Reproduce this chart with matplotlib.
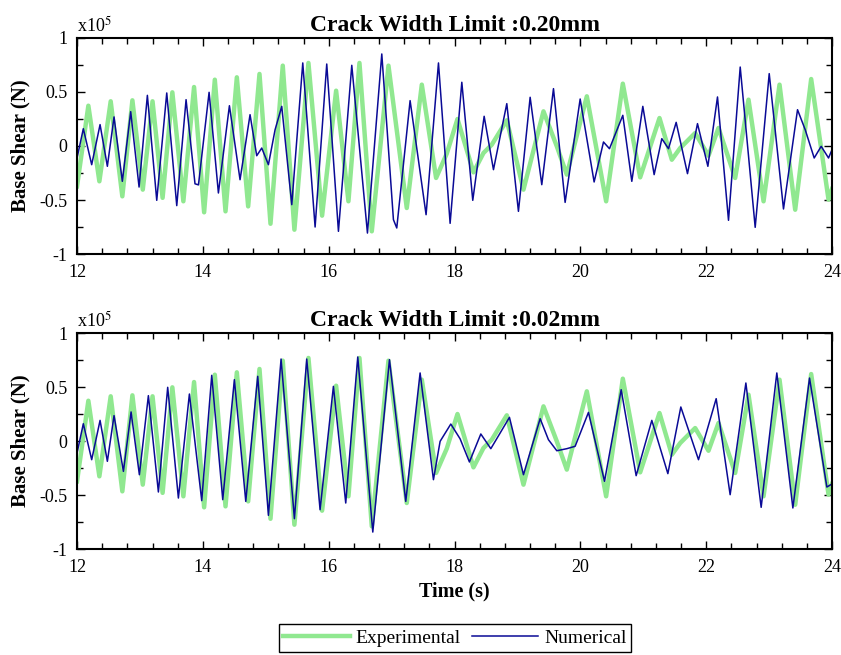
import matplotlib
matplotlib.use('Agg')
import matplotlib.pyplot as plt
from matplotlib.ticker import MultipleLocator, FormatStrFormatter

plt.rcParams['font.family'] = ['Liberation Serif', 'DejaVu Serif']
plt.rcParams['mathtext.fontset'] = 'stix'
plt.rcParams['axes.unicode_minus'] = False

# values, base shear in units of 1e5 N
exp_t = [12.0, 12.18, 12.355, 12.535, 12.72, 12.88, 13.045, 13.2, 13.36, 13.515,
         13.69, 13.86, 14.02, 14.19, 14.36, 14.54, 14.72, 14.9, 15.075, 15.27,
         15.455, 15.678, 15.895, 16.118, 16.314, 16.489, 16.685, 16.95, 17.241, 17.48,
         17.707, 17.877, 18.047, 18.301, 18.46, 18.592, 18.831, 19.096, 19.414, 19.626,
         19.785, 20.103, 20.41, 20.675, 20.951, 21.258, 21.454, 21.587, 21.825, 22.037,
         22.196, 22.461, 22.673, 22.912, 23.166, 23.415, 23.669, 23.945, 24.0]
exp_v = [-0.373, 0.373, -0.327, 0.414, -0.466, 0.423, -0.404, 0.414, -0.48, 0.497,
         -0.512, 0.546, -0.614, 0.614, -0.605, 0.636, -0.559, 0.667, -0.72, 0.744,
         -0.775, 0.769, -0.645, 0.512, -0.512, 0.769, -0.79, 0.744, -0.574, 0.568,
         -0.296, -0.07, 0.25, -0.244, -0.065, 0.012, 0.238, -0.404, 0.321, -0.003,
         -0.265, 0.46, -0.512, 0.577, -0.29, 0.259, -0.127, -0.019, 0.12, -0.09,
         0.167, -0.296, 0.429, -0.512, 0.568, -0.59, 0.62, -0.497, -0.398]

# numerical, crack width limit 0.20mm
num1_t = [12.0, 12.1, 12.233, 12.366, 12.482, 12.588, 12.72, 12.853, 12.986, 13.118,
          13.267, 13.426, 13.585, 13.733, 13.875, 13.93, 14.099, 14.247, 14.422, 14.591,
          14.75, 14.856, 14.936, 15.042, 15.148, 15.254, 15.413, 15.588, 15.784, 15.969,
          16.155, 16.367, 16.616, 16.844, 17.029, 17.082, 17.294, 17.548, 17.745, 17.93,
          18.116, 18.29, 18.471, 18.619, 18.831, 19.016, 19.202, 19.387, 19.573, 19.758,
          19.997, 20.219, 20.368, 20.463, 20.675, 20.818, 20.993, 21.173, 21.295, 21.401,
          21.523, 21.703, 21.862, 22.027, 22.18, 22.355, 22.541, 22.779, 23.002, 23.229,
          23.452, 23.574, 23.717, 23.828, 23.945, 24.0]
num1_v = [-0.111, 0.16, -0.173, 0.198, -0.188, 0.269, -0.327, 0.318, -0.38, 0.469,
          -0.503, 0.491, -0.552, 0.429, -0.35, -0.36, 0.497, -0.435, 0.373, -0.312,
          0.29, -0.09, -0.019, -0.173, 0.151, 0.367, -0.543, 0.769, -0.75, 0.759,
          -0.79, 0.747, -0.806, 0.852, -0.682, -0.759, 0.42, -0.636, 0.769, -0.716,
          0.59, -0.503, 0.275, -0.219, 0.392, -0.605, 0.451, -0.358, 0.531, -0.522,
          0.435, -0.333, 0.037, -0.025, 0.284, -0.327, 0.367, -0.265, 0.068, -0.025,
          0.219, -0.256, 0.207, -0.188, 0.454, -0.688, 0.731, -0.753, 0.67, -0.583,
          0.336, 0.151, -0.111, -0.003, -0.111, -0.034]

# numerical, crack width limit 0.02mm
num2_t = [12.0, 12.1, 12.233, 12.366, 12.482, 12.588, 12.737, 12.859, 12.991, 13.134,
          13.293, 13.441, 13.611, 13.786, 13.982, 14.141, 14.316, 14.501, 14.682, 14.872,
          15.042, 15.243, 15.455, 15.651, 15.863, 16.075, 16.271, 16.462, 16.701, 16.966,
          17.225, 17.453, 17.665, 17.771, 17.941, 18.089, 18.237, 18.418, 18.577, 18.873,
          19.096, 19.361, 19.493, 19.626, 19.785, 19.917, 20.129, 20.384, 20.649, 20.887,
          21.136, 21.391, 21.597, 21.878, 22.159, 22.381, 22.631, 22.874, 23.123, 23.378,
          23.643, 23.918, 24.0]
num2_v = [-0.111, 0.16, -0.173, 0.191, -0.188, 0.235, -0.281, 0.269, -0.312, 0.42,
          -0.472, 0.497, -0.528, 0.435, -0.552, 0.608, -0.543, 0.568, -0.559, 0.599,
          -0.688, 0.759, -0.719, 0.759, -0.636, 0.506, -0.574, 0.778, -0.843, 0.753,
          -0.559, 0.63, -0.358, -0.003, 0.157, 0.02, -0.194, 0.065, -0.071, 0.219,
          -0.312, 0.207, 0.012, -0.09, -0.071, -0.049, 0.265, -0.373, 0.475, -0.321,
          0.191, -0.302, 0.315, -0.173, 0.392, -0.497, 0.537, -0.614, 0.63, -0.62,
          0.583, -0.426, -0.398]

titles = ["Crack Width Limit :0.20mm", "Crack Width Limit :0.02mm"]
exp_color = '#90E890'
num_color = '#0A0A96'

fig = plt.figure(figsize=(8.41, 6.55), dpi=100)
ax1 = fig.add_axes([0.0916, 0.6122, 0.8977, 0.3298])
ax2 = fig.add_axes([0.0916, 0.1618, 0.8977, 0.3298])

for ax, nt, nv, title in [(ax1, num1_t, num1_v, titles[0]), (ax2, num2_t, num2_v, titles[1])]:
    ax.plot(exp_t, exp_v, color=exp_color, linewidth=3.2, solid_joinstyle='round', label='Experimental')
    ax.plot(nt, nv, color=num_color, linewidth=1.1, solid_joinstyle='round', label='Numerical')
    ax.set_xlim(12, 24)
    ax.set_ylim(-1, 1)
    ax.xaxis.set_major_locator(MultipleLocator(2))
    ax.xaxis.set_minor_locator(MultipleLocator(0.4))
    ax.yaxis.set_major_locator(MultipleLocator(0.5))
    ax.yaxis.set_minor_locator(MultipleLocator(0.25))
    ax.yaxis.set_major_formatter(FormatStrFormatter('%g'))
    ax.tick_params(which='both', direction='in', top=True, right=True, labelsize=13, width=1)
    ax.tick_params(which='major', length=6, pad=7)
    ax.tick_params(which='minor', length=4)
    for sp in ax.spines.values():
        sp.set_linewidth(1.5)
    ax.set_ylabel("Base Shear (N)", fontsize=15, fontweight='bold', labelpad=6)
    ax.set_title(title, fontsize=17, fontweight='bold', pad=5)
    ax.text(0.0, 1.012, r'x10$^5$', transform=ax.transAxes, fontsize=13, ha='left', va='bottom')

ax2.set_xlabel("Time (s)", fontsize=14.5, fontweight='bold', labelpad=4)

h, l = ax1.get_legend_handles_labels()
fig.legend(h, l, loc='center', bbox_to_anchor=(455 / 841, 1 - 638 / 655), ncol=2,
           fancybox=False, edgecolor='black', framealpha=1, fontsize=14,
           handlelength=3.4, handletextpad=0.3, columnspacing=0.6, borderpad=0.25)

plt.savefig("out.png", dpi=100)
